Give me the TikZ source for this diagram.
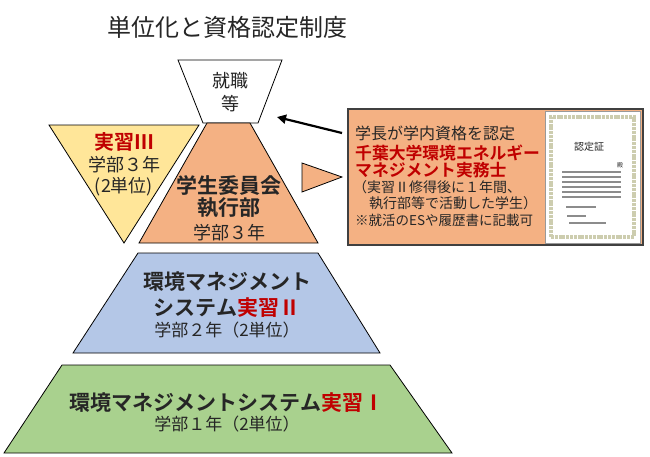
\documentclass[tikz,border=0pt]{standalone}
\usepackage{fontspec}
\setmainfont{Noto Sans CJK JP}[BoldFont={Noto Sans CJK JP Bold}]
\usetikzlibrary{arrows.meta}
\definecolor{yel}{HTML}{FFE699}
\definecolor{ora}{HTML}{F4B183}
\definecolor{blu}{HTML}{B4C7E7}
\definecolor{gre}{HTML}{A9D18E}
\definecolor{rd}{HTML}{C00000}
\definecolor{txt}{HTML}{262626}
\newcommand{\fs}[1]{\fontsize{#1}{#1}\selectfont}
\begin{document}
\begin{tikzpicture}[x=1pt, y=-1pt, every node/.style={inner sep=0pt, text=txt},
        shp/.style={draw=black, line width=0.8pt},
        big/.style={font=\fs{21}\bfseries},
        sub/.style={font=\fs{17}},
        line/.style={anchor=west, font=\fs{16}},
        small/.style={anchor=west, font=\fs{14}}]
            \useasboundingbox (0,0) rectangle (650,456);
            \node[font=\fs{24}] (title) at (227,27) {単位化と資格認定制度};

            \draw[shp, fill=white] (178,60) -- (282,60) -- (258,123) -- (203,123) -- cycle;
            \draw[shp, fill=ora] (207,123) -- (250,123) -- (318,243) -- (139,243) -- cycle;
            \draw[shp, fill=yel] (49,125) -- (199,125) -- (124,243) -- cycle;
            \draw[shp, fill=blu] (138,253) -- (318,253) -- (380,353) -- (73,353) -- cycle;
            \draw[shp, fill=gre] (62,365) -- (390,365) -- (452,453) -- (4,453) -- cycle;
            \draw[shp, fill=ora] (302,163) -- (342,177) -- (302,192) -- cycle;

            \node[align=center, font=\fs{18}, text depth=0pt] (job) at (230,91) {就職\\[5pt]等};

            \node[big, font=\fs{20}\bfseries, text=rd] (ex3) at (124,142) {実習Ⅲ};
            \node[font=\fs{18}] (ex3y) at (124,165) {学部３年};
            \node[font=\fs{18}] (ex3u) at (124,187) {(2単位)};

            \node[big] (comm) at (229,185) {学生委員会};
            \node[big] (exec) at (229,208) {執行部};
            \node[font=\fs{18}] (execy) at (229,233) {学部３年};

            \node[big] (ex2a) at (227,282) {環境マネジメント};
            \node[big] (ex2b) at (227,308) {システム{\color{rd}実習Ⅱ}};
            \node[sub] (ex2y) at (227,330) {学部２年（2単位）};

            \node[big] (ex1) at (227,403) {環境マネジメントシステム{\color{rd}実習Ⅰ}};
            \node[sub] (ex1y) at (227,424) {学部１年（2単位）};

            \node[draw=black!75, line width=1.2pt, fill=ora, minimum width=295pt, minimum height=136pt] (cert) at (495.5,177) {};
            \node[draw=black!40, fill=white, minimum width=95pt, minimum height=132pt] (paper) at (592.5,177) {};
            \node[draw={rgb,255:red,205;green,205;blue,175}, line width=4pt, dash pattern=on 3pt off 0.8pt, minimum width=83pt, minimum height=120pt] (frame) at (592.5,177) {};
            \node[font=\fs{10}] (ptitle) at (589,147) {認定証};
            \node[font=\fs{6}] (pto) at (620,165) {殿};
            \foreach \y in {172,177,182,187,192,197}
                \draw[black!45, line width=1.3pt] (562,\y) -- (621,\y);
            \draw[black!45, line width=1.3pt] (566,207) -- (596,207);
            \draw[black!45, line width=1.3pt] (567,216) -- (586,216);
            \draw[black!45, line width=1.3pt] (569,223) -- (606,223);

            \node[line] (l1) at (355,133) {学長が学内資格を認定};
            \node[line, font=\fs{16.8}\bfseries, text=rd] (l2) at (355,153) {千葉大学環境エネルギー};
            \node[line, font=\fs{16.8}\bfseries, text=rd] (l3) at (355,170) {マネジメント実務士};
            \node[small] (l4) at (353,187) {（実習Ⅱ修得後に１年間、};
            \node[small] (l5) at (369,203) {執行部等で活動した学生）};
            \node[small, font=\fs{13.5}] (l6) at (355,220) {※就活のESや履歴書に記載可};

            \coordinate (tail) at (342,133);
            \coordinate (head) at (277,117);
            \draw[-{Triangle[length=9pt, width=9pt]}, line width=2.2pt] (tail) -- (head);
        \end{tikzpicture}
\end{document}
